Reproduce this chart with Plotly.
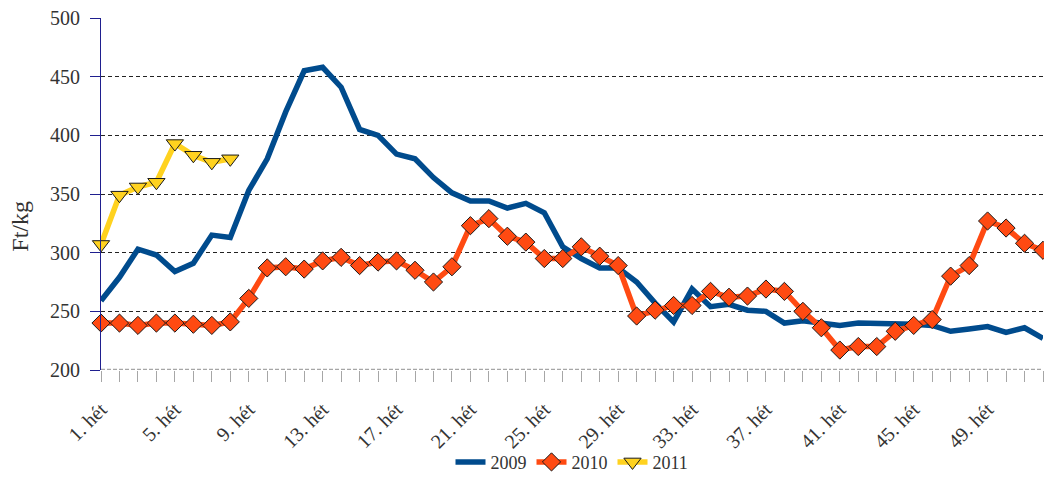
import plotly.graph_objects as go

weeks = list(range(1, 53))
week_labels = [f"{w}. hét" for w in weeks]
label_weeks = [1, 5, 9, 13, 17, 21, 25, 29, 33, 37, 41, 45, 49]

s2009 = [259, 279, 303, 298, 284, 291, 315, 313, 353, 380, 420, 455, 458, 441, 405, 400,
         384, 380, 364, 351, 344, 344, 338, 342, 334, 305, 295, 287, 287, 275, 257, 241,
         269, 254, 256, 251, 250, 240, 242, 240, 238, 240, 240, 239, 239, 238, 233, 235,
         237, 232, 236, 227]
s2010 = [240, 240, 238, 240, 240, 239, 238, 241, 261, 287, 288, 286, 293, 296, 289, 292,
         293, 285, 275, 288, 323, 329, 314, 309, 295, 295, 305, 297, 289, 246, 251, 255,
         255, 267, 262, 263, 269, 267, 250, 236, 217, 220, 220, 233, 238, 243, 280, 289,
         327, 321, 308, 302]
s2011 = [307, 349, 356, 360, 393, 383, 377, 380]

y_ticks = [200, 250, 300, 350, 400, 450, 500]

FONT = "Liberation Serif"
TXT = "#333333"

fig = go.Figure()
fig.add_trace(go.Scatter(
    x=weeks, y=s2009, name="2009", mode="lines",
    line=dict(color="#004B8D", width=5.5), cliponaxis=False))
fig.add_trace(go.Scatter(
    x=weeks, y=s2010, name="2010", mode="lines+markers",
    line=dict(color="#FF4A12", width=5.5),
    marker=dict(symbol="diamond", size=14, color="#FF4A12",
                line=dict(color="#1a1a1a", width=1)),
    cliponaxis=False))
fig.add_trace(go.Scatter(
    x=weeks[:len(s2011)], y=s2011, name="2011", mode="lines+markers",
    line=dict(color="#FFD21F", width=5.5),
    marker=dict(symbol="triangle-down", size=15, color="#FFD21F",
                line=dict(color="#1a1a1a", width=1)),
    cliponaxis=False))

fig.add_shape(type="line", xref="x", yref="y", x0=1, x1=52, y0=200, y1=200,
              line=dict(color="#A6A6A6", width=2.5, dash="4px,2px"), layer="above")

fig.add_annotation(text="Ft/kg", xref="paper", yref="paper",
                   x=-0.086, y=0.41, xanchor="center", yanchor="middle",
                   textangle=-90, showarrow=False,
                   font=dict(family=FONT, size=24, color=TXT))

fig.update_layout(
    width=1036, height=469,
    margin=dict(l=93, r=1, t=10, b=107, autoexpand=False),
    paper_bgcolor="white", plot_bgcolor="white",
    font=dict(family=FONT, size=18, color=TXT),
    showlegend=True,
    legend=dict(orientation="h", x=0.5, xanchor="center", y=-0.262, yanchor="middle",
                font=dict(family=FONT, size=18, color=TXT), itemwidth=30,
                traceorder="normal", bgcolor="rgba(0,0,0,0)"),
)

fig.update_xaxes(
    range=[1, 52], tickmode="array", tickvals=weeks,
    ticktext=[lab if w in label_weeks else "" for w, lab in zip(weeks, week_labels)],
    tickangle=-45, ticks="outside", ticklen=11, tickcolor="#A6A6A6", tickwidth=1,
    showgrid=False, zeroline=False, showline=False, automargin=False,
    ticklabelstandoff=8, ticklabeloverflow="allow",
    tickfont=dict(family=FONT, size=20, color=TXT),
)
fig.update_yaxes(
    range=[200, 500], tickmode="array", tickvals=y_ticks,
    ticks="outside", ticklen=10, tickcolor="#1F1F8F", tickwidth=1,
    showline=True, linecolor="#1F1F8F", linewidth=1,
    showgrid=True, gridcolor="#222222", gridwidth=1, griddash="4px,3px",
    zeroline=False, automargin=False, ticklabelstandoff=6,
    ticklabeloverflow="allow",
    tickfont=dict(family=FONT, size=20, color=TXT),
)

fig.write_html("out.html")
